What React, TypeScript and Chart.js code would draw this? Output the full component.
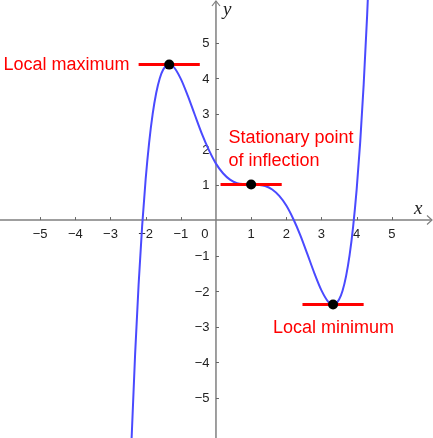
import React, { useEffect, useRef } from "react";
import { Chart, registerables } from "chart.js";

Chart.register(...registerables);

// Curve samples (x, y)
const X_VALUES = [
  -2.45, -2.4, -2.3, -2.2, -2.1, -2.0, -1.9, -1.8, -1.7, -1.6, -1.5, -1.4, -1.33, -1.2, -1.0,
  -0.8, -0.6, -0.4, -0.2, 0, 0.2, 0.4, 0.6, 0.8, 1.0, 1.2, 1.4, 1.6, 1.8, 2.0, 2.2, 2.4,
  2.6, 2.8, 3.0, 3.2, 3.33, 3.4, 3.5, 3.6, 3.7, 3.8, 3.9, 4.0, 4.1, 4.2, 4.3, 4.4,
];
const Y_VALUES = [
  -7.52, -6.17, -3.79, -1.81, -0.17, 1.15, 2.19, 2.99, 3.58, 3.99, 4.24, 4.36, 4.38, 4.31, 3.98,
  3.5, 2.96, 2.43, 1.97, 1.59, 1.32, 1.14, 1.04, 1.01, 1.0, 0.99, 0.96, 0.86, 0.68, 0.41, 0.03, -0.43,
  -0.96, -1.5, -1.98, -2.31, -2.38, -2.36, -2.24, -1.99, -1.58, -0.99, -0.19, 0.85, 2.17, 3.81, 5.79, 8.17,
];

// Stationary points
const STATIONARY_X = [-1.33, 1, 3.33];
const STATIONARY_Y = [4.38, 1, -2.38];

const X_TICKS = [-5, -4, -3, -2, -1, 1, 2, 3, 4, 5];
const Y_TICKS = [-5, -4, -3, -2, -1, 1, 2, 3, 4, 5];

const LABEL_MAX = "Local maximum";
const LABEL_INFL_1 = "Stationary point";
const LABEL_INFL_2 = "of inflection";
const LABEL_MIN = "Local minimum";

const fmt = (v: number) => (v < 0 ? "\u2212" + Math.abs(v) : String(v));

const axesPlugin = {
  id: "customAxes",
  beforeDatasetsDraw(chart: any) {
    const { ctx } = chart;
    const xs = chart.scales.x;
    const ys = chart.scales.y;
    const ox = xs.getPixelForValue(0);
    const oy = ys.getPixelForValue(0);
    const W = chart.width;
    const H = chart.height;
    ctx.save();
    ctx.strokeStyle = "#808080";
    ctx.lineWidth = 1.5;
    ctx.beginPath();
    ctx.moveTo(0, oy);
    ctx.lineTo(W - 1, oy);
    ctx.moveTo(ox, 1);
    ctx.lineTo(ox, H);
    ctx.stroke();
    ctx.lineWidth = 1.2;
    ctx.beginPath();
    ctx.moveTo(ox - 4, 6);
    ctx.lineTo(ox, 1);
    ctx.lineTo(ox + 4, 6);
    ctx.moveTo(W - 6, oy - 4.5);
    ctx.lineTo(W - 1, oy);
    ctx.lineTo(W - 6, oy + 4.5);
    ctx.stroke();
    // tick marks
    ctx.lineWidth = 1;
    ctx.strokeStyle = "#666";
    ctx.beginPath();
    X_TICKS.forEach((v) => {
      const px = Math.round(xs.getPixelForValue(v)) + 0.5;
      ctx.moveTo(px, oy - 3);
      ctx.lineTo(px, oy);
    });
    Y_TICKS.forEach((v) => {
      const py = Math.round(ys.getPixelForValue(v)) + 0.5;
      ctx.moveTo(ox, py);
      ctx.lineTo(ox + 3, py);
    });
    ctx.stroke();
    // tick labels
    ctx.fillStyle = "#222";
    ctx.font = '13px "Liberation Sans", Arial, sans-serif';
    ctx.textBaseline = "alphabetic";
    ctx.textAlign = "center";
    X_TICKS.forEach((v) => ctx.fillText(fmt(v), xs.getPixelForValue(v), oy + 17.5));
    ctx.fillText("0", ox - 11, oy + 17.5);
    ctx.textAlign = "right";
    Y_TICKS.forEach((v) => ctx.fillText(fmt(v), ox - 6.5, ys.getPixelForValue(v) + 4.6));
    // axis titles
    ctx.font = 'italic 19px "Liberation Serif", "DejaVu Serif", serif';
    ctx.textAlign = "left";
    ctx.fillText("x", W - 19, oy - 6);
    ctx.fillText("y", ox + 7, 15);
    ctx.restore();
  },
  afterDatasetsDraw(chart: any) {
    const { ctx } = chart;
    const xs = chart.scales.x;
    const ys = chart.scales.y;
    ctx.save();
    ctx.fillStyle = "#ff0000";
    ctx.font = '18px "Liberation Sans", Arial, sans-serif';
    ctx.textBaseline = "alphabetic";
    // local maximum
    ctx.textAlign = "right";
    ctx.fillText(
      LABEL_MAX,
      xs.getPixelForValue(STATIONARY_X[0] - 0.87) - 9,
      ys.getPixelForValue(STATIONARY_Y[0]) + 5
    );
    // inflection
    ctx.textAlign = "left";
    const ix = xs.getPixelForValue(STATIONARY_X[1]);
    const iy = ys.getPixelForValue(STATIONARY_Y[1]);
    ctx.fillText(LABEL_INFL_1, ix - 22.7, iy - 42);
    ctx.fillText(LABEL_INFL_2, ix - 22.7, iy - 18.5);
    // local minimum
    ctx.fillText(
      LABEL_MIN,
      xs.getPixelForValue(STATIONARY_X[2]) - 60,
      ys.getPixelForValue(STATIONARY_Y[2]) + 28.5
    );
    ctx.restore();
  },
};

export default function App() {
  const canvasRef = useRef<HTMLCanvasElement | null>(null);

  useEffect(() => {
    if (!canvasRef.current) return;
    const curve = X_VALUES.map((x, i) => ({ x, y: Y_VALUES[i] }));
    const tangents = STATIONARY_X.map((x, i) => ({
      type: "line" as const,
      data: [
        { x: x - 0.87, y: STATIONARY_Y[i] },
        { x: x + 0.87, y: STATIONARY_Y[i] },
      ],
      borderColor: "#ff0000",
      borderWidth: 3,
      pointRadius: 0,
      showLine: true,
      order: 2,
    }));
    const dots = STATIONARY_X.map((x, i) => ({ x, y: STATIONARY_Y[i] }));

    const chart = new Chart(canvasRef.current, {
      type: "scatter",
      data: {
        datasets: [
          {
            type: "line",
            data: curve,
            borderColor: "#4a4aff",
            borderWidth: 2,
            pointRadius: 0,
            cubicInterpolationMode: "monotone",
            capBezierPoints: false,
            showLine: true,
            clip: false,
            order: 3,
          } as any,
          ...(tangents as any[]),
          {
            type: "scatter",
            data: dots,
            backgroundColor: "#000000",
            borderColor: "#000000",
            borderWidth: 0,
            pointRadius: 5,
            order: 1,
          } as any,
        ],
      },
      options: {
        animation: false,
        responsive: false,
        maintainAspectRatio: false,
        layout: { padding: 0 },
        elements: { line: { capBezierPoints: false } },
        plugins: {
          legend: { display: false },
          title: { display: false },
          tooltip: { enabled: false },
        },
        scales: {
          x: { type: "linear", min: -6, max: 6.03, display: false },
          y: { type: "linear", min: -6.0, max: 6.06, display: false },
        },
      },
      plugins: [axesPlugin],
    });
    return () => chart.destroy();
  }, []);

  return (
    <div
      style={{
        position: "fixed",
        left: 0,
        top: 0,
        width: 433,
        height: 438,
        background: "#fff",
      }}
    >
      <canvas ref={canvasRef} width={433} height={438} style={{ display: "block" }} />
    </div>
  );
}
